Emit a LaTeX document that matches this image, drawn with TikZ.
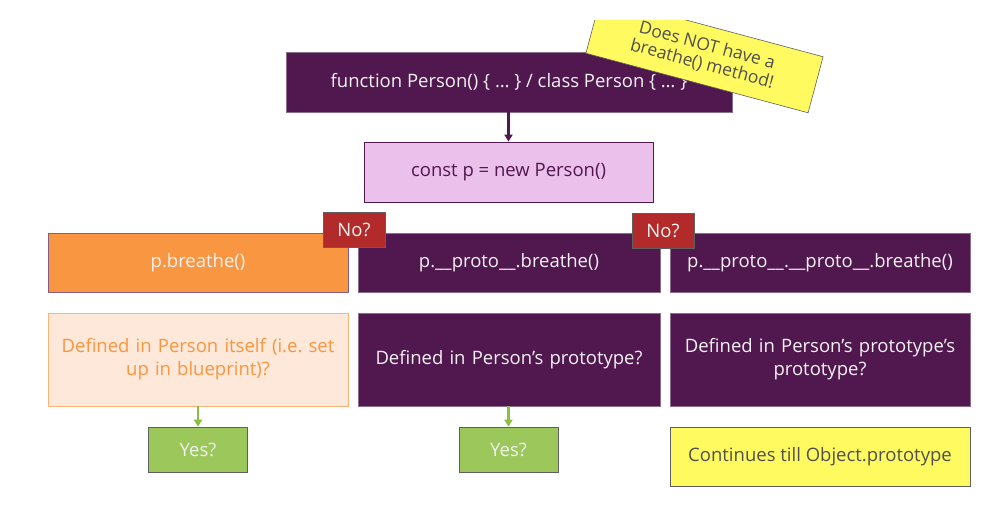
\documentclass[tikz,border=0pt]{standalone}
\usepackage{fontspec}
\setmainfont{Open Sans}
\usetikzlibrary{arrows.meta}
\definecolor{dpurple}{RGB}{81,23,79}
\definecolor{pborder}{RGB}{140,110,140}
\definecolor{pinkfill}{RGB}{235,193,235}
\definecolor{orangef}{RGB}{249,150,66}
\definecolor{lorange}{RGB}{253,232,217}
\definecolor{lorangeb}{RGB}{250,180,120}
\definecolor{redno}{RGB}{178,42,42}
\definecolor{greenf}{RGB}{156,199,90}
\definecolor{greenarr}{RGB}{140,190,70}
\definecolor{yellowf}{RGB}{255,250,95}
\definecolor{graytext}{RGB}{80,80,80}
\definecolor{grayb}{RGB}{95,95,95}
\definecolor{whitet}{RGB}{242,242,242}
\tikzset{
  base/.style={rectangle, inner sep=2pt, align=center, font=\fontsize{18.5}{23}\selectfont},
  purplebox/.style={base, fill=dpurple, draw=pborder, line width=0.6pt, text=whitet},
  pinkbox/.style={base, fill=pinkfill, draw=dpurple, line width=0.8pt, text=dpurple},
  orangebox/.style={base, fill=orangef, draw=dpurple!70, line width=0.6pt, text=whitet},
  lorangebox/.style={base, fill=lorange, draw=lorangeb, line width=0.8pt, text=orangef},
  nobox/.style={base, fill=redno, draw=grayb, line width=0.6pt, text=whitet},
  yesbox/.style={base, fill=greenf, draw=grayb, line width=0.6pt, text=whitet},
  yellowbox/.style={base, fill=yellowf, draw=grayb, line width=0.6pt, text=graytext},
  purplearrow/.style={draw=dpurple, line width=2.2pt, -{Triangle[length=7pt,width=8pt]}},
  greenarrow/.style={draw=greenarr, line width=2.2pt, -{Triangle[length=7pt,width=8pt]}},
}
\begin{document}
\begin{tikzpicture}[x=1pt,y=-1pt]
\useasboundingbox (0,0) rectangle (993,504);
\clip (0,20) rectangle (993,504);
% top
\node[purplebox, minimum width=446pt, minimum height=60pt] (cls) at (509,82) {function Person() \{ \dots\ \} / class Person \{ \dots\ \}};
\node[pinkbox, minimum width=289pt, minimum height=60pt] (inst) at (508.5,172) {const p = new Person()};
\draw[purplearrow] (cls.south -| inst.north) -- (inst.north);
% note
\node[yellowbox, rotate=-15, minimum width=230pt, minimum height=58pt, inner sep=1pt, font=\fontsize{17.5}{21}\selectfont] (note) at (704.5,55) {\raisebox{-2pt}{Does NOT have a}\\breathe() method!};
% row 1
\node[orangebox, minimum width=300pt, minimum height=59pt] (c1) at (198,262.5) {p.breathe()};
\node[purplebox, minimum width=302pt, minimum height=59pt] (c2) at (509,262.5) {p.\_\_proto\_\_.breathe()};
\node[purplebox, minimum width=300pt, minimum height=59pt] (c3) at (820,262.5) {p.\_\_proto\_\_.\_\_proto\_\_.breathe()};
% row 2
\node[lorangebox, minimum width=300pt, minimum height=93pt, text width=292pt] (d1) at (198,359.5) {Defined in Person itself (i.e.\ set\\up in blueprint)?};
\node[purplebox, minimum width=302pt, minimum height=93pt, text width=294pt] (d2) at (509,359.5) {Defined in Person’s prototype?};
\node[purplebox, minimum width=300pt, minimum height=93pt, text width=292pt] (d3) at (820,359.5) {Defined in Person’s prototype’s\\prototype?};
% row 3
\node[yesbox, minimum width=99pt, minimum height=45pt] (y1) at (198,449.5) {Yes?};
\node[yesbox, minimum width=99pt, minimum height=45pt] (y2) at (508.5,449.5) {Yes?};
\node[yellowbox, minimum width=300pt, minimum height=59pt] (cont) at (820,456.5) {Continues till Object.prototype};
\draw[greenarrow] (d1.south) -- (y1.north);
\draw[greenarrow] (d2.south -| y2.north) -- (y2.north);
% No? tags
\node[nobox, minimum width=62pt, minimum height=35pt] (no1) at (354,229.5) {No?};
\node[nobox, minimum width=62pt, minimum height=35pt] (no2) at (663,230.5) {No?};
\end{tikzpicture}
\end{document}
